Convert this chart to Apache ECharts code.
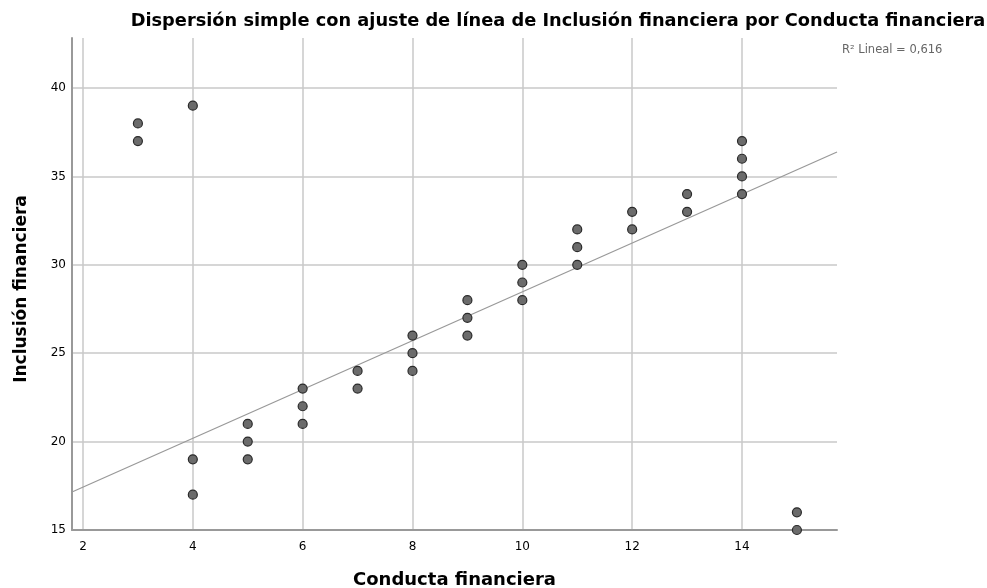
<!DOCTYPE html>
<html>
<head>
<meta charset="utf-8">
<script src="https://cdn.jsdelivr.net/npm/echarts@6/dist/echarts.min.js"></script>
<style>
  html, body { margin: 0; padding: 0; background: #fff; }
  #chart { width: 987px; height: 588px; }
</style>
</head>
<body>
<div id="chart"></div>
<script>
// Conducta financiera (x) and Inclusión financiera (y) per observation
const conducta = [3, 3, 4, 4, 4, 5, 5, 5, 6, 6, 6, 7, 7, 8, 8, 8, 9, 9, 9, 10, 10, 10, 11, 11, 11, 12, 12, 13, 13, 14, 14, 14, 14, 15, 15];
const inclusion = [38, 37, 39, 19, 17, 21, 20, 19, 23, 22, 21, 24, 23, 26, 25, 24, 28, 27, 26, 30, 29, 28, 32, 31, 30, 33, 32, 34, 33, 37, 36, 35, 34, 16, 15];

// Fitted line end points (x, y) across the plotted range
const fitX = [1.8, 15.73];
const fitY = [17.15, 36.38];

const xTicks = [2, 4, 6, 8, 10, 12, 14];
const yTicks = [15, 20, 25, 30, 35, 40];

const rSquaredText = 'R² Lineal = 0,616';

const points = conducta.map((x, i) => [x, inclusion[i]]);
const fitLine = fitX.map((x, i) => [x, fitY[i]]);

const chart = echarts.init(document.getElementById('chart'));
const wide = '"DejaVu Sans", Verdana, sans-serif';

chart.setOption({
  animation: false,
  backgroundColor: '#ffffff',
  title: [
    {
      text: 'Dispersión simple con ajuste de línea de Inclusión financiera por Conducta financiera',
      left: 553, top: 7, textAlign: 'center',
      textStyle: { fontFamily: wide, fontSize: 17.8, fontWeight: 'bold', color: '#000' }
    },
    {
      text: rSquaredText,
      left: 837, top: 39,
      textStyle: { fontFamily: wide, fontSize: 11.5, fontWeight: 'normal', color: '#666' }
    }
  ],
  grid: { left: 72, top: 38, width: 765, height: 492, containLabel: false, outerBoundsMode: 'none' },
  xAxis: {
    type: 'value',
    min: 1.8, max: 15.73,
    name: 'Conducta financiera',
    nameLocation: 'middle',
    nameGap: 41,
    nameTextStyle: { fontFamily: wide, fontSize: 18, fontWeight: 'bold', color: '#000' },
    axisLine: { show: true, onZero: false, lineStyle: { color: '#999', width: 2 } },
    axisTick: { show: false, customValues: xTicks },
    axisLabel: { customValues: xTicks, fontFamily: wide, fontSize: 12, color: '#000', margin: 11 },
    splitLine: { show: true, lineStyle: { color: '#c8c8c8', width: 1.5 } }
  },
  yAxis: {
    type: 'value',
    min: 15, max: 42.83,
    name: 'Inclusión financiera',
    nameLocation: 'middle',
    nameGap: 42,
    nameRotate: 90,
    nameTextStyle: { fontFamily: wide, fontSize: 17, fontWeight: 'bold', color: '#000', padding: [0, 10, 0, 0] },
    axisLine: { show: true, onZero: false, lineStyle: { color: '#999', width: 2 } },
    axisTick: { show: false, customValues: yTicks },
    axisLabel: { customValues: yTicks, fontFamily: wide, fontSize: 12, color: '#000', margin: 6 },
    splitLine: { show: true, lineStyle: { color: '#c8c8c8', width: 1.5 } }
  },
  series: [
    {
      type: 'line',
      data: fitLine,
      symbol: 'none',
      lineStyle: { color: '#999', width: 1.2 },
      silent: true,
      z: 2
    },
    {
      type: 'scatter',
      data: points,
      symbol: 'circle',
      symbolSize: 9,
      itemStyle: { color: '#6b6b6b', borderColor: '#2a2a2a', borderWidth: 1.2, opacity: 1 },
      z: 3
    }
  ]
});
</script>
</body>
</html>
